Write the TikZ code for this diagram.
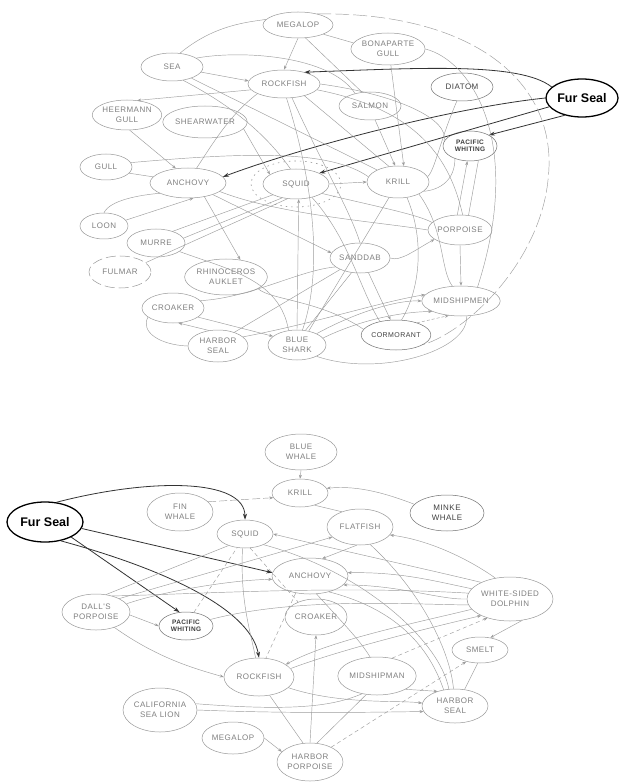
\documentclass[tikz,border=0pt]{standalone}
\usepackage{fontspec}
\usetikzlibrary{shapes.geometric,arrows.meta}
\newfontfamily\labf[LetterSpace=6]{Liberation Sans}
\newfontfamily\furf{Liberation Sans}
\begin{document}
\begin{tikzpicture}[x=1pt,y=-1pt]
\tikzset{
 sp/.style={ellipse, draw=black!40, line width=0.5pt, inner sep=0pt, align=center, text=black!50, font=\labf\fontsize{8}{10}\selectfont},
 dk/.style={text=black!75, draw=black!55},
 smallf/.style={font=\labf\bfseries\fontsize{6.5}{7.5}\selectfont},
 fur/.style={ellipse, draw=black, line width=1.3pt, inner sep=0pt, font=\furf\bfseries\fontsize{12.5}{15}\selectfont, minimum width=72, minimum height=38},
 ln/.style={draw=black!38, line width=0.45pt},
 la/.style={ln, -{Stealth[length=4pt,width=3pt]}},
 dl/.style={ln, dash pattern=on 5pt off 3pt},
 fs/.style={draw=black!80, line width=0.8pt, -{Stealth[length=6pt,width=4pt]}},
}
\fill[white] (0,0) rectangle (620,783);
\useasboundingbox (0,0) rectangle (620,783);

% ---------------- TOP WEB ----------------
\node[sp, minimum width=70, minimum height=26] (megT) at (298,25) {MEGALOP};
\node[sp, minimum width=68, minimum height=32] (bonT) at (388,49) {BONAPARTE\\GULL};
\node[sp, minimum width=62, minimum height=28] (seaT) at (172,67) {SEA};
\node[sp, minimum width=72, minimum height=28] (rockT) at (284,84) {ROCKFISH};
\node[sp, minimum width=62, minimum height=30] (heerT) at (127,115) {HEERMANN\\GULL};
\node[sp, minimum width=78, minimum height=32] (shearT) at (205,122) {SHEARWATER};
\node[sp, minimum width=62, minimum height=28] (salT) at (370,106) {SALMON};
\node[sp, dk, minimum width=62, minimum height=28] (diaT) at (462,87) {DIATOM};
\node[fur] (furT) at (582,98) {Fur Seal};
\node[sp, dk, smallf, minimum width=54, minimum height=30] (pwT) at (470,146) {PACIFIC\\WHITING};
\node[sp, minimum width=52, minimum height=26] (gullT) at (106,167) {GULL};
\node[sp, minimum width=76, minimum height=30] (anchT) at (188,183) {ANCHOVY};
\node[sp, minimum width=66, minimum height=30] (squidT) at (296,184) {SQUID};
\node[ellipse, draw=black!40, line width=0.6pt, dash pattern=on 1.5pt off 4pt, minimum width=90, minimum height=46, inner sep=0pt] (ringT) at (296,184) {};
\node[sp, minimum width=62, minimum height=32] (krillT) at (398,182) {KRILL};
\node[sp, minimum width=64, minimum height=30] (porpT) at (460,230) {PORPOISE};
\node[sp, minimum width=48, minimum height=26] (loonT) at (104,226) {LOON};
\node[sp, minimum width=58, minimum height=28] (murreT) at (156,243) {MURRE};
\node[sp, dash pattern=on 10pt off 4pt, minimum width=62, minimum height=32] (fulT) at (120,272) {FULMAR};
\node[sp, minimum width=72, minimum height=36] (rhinoT) at (226,277) {RHINOCEROS\\AUKLET};
\node[sp, minimum width=60, minimum height=30] (sandT) at (360,258) {SANDDAB};
\node[sp, minimum width=62, minimum height=30] (croakT) at (173,308) {CROAKER};
\node[sp, minimum width=64, minimum height=30] (midT) at (461,301) {MIDSHIPMEN};
\node[sp, minimum width=60, minimum height=32] (hsealT) at (218,346) {HARBOR\\SEAL};
\node[sp, minimum width=58, minimum height=30] (bsharkT) at (297,345) {BLUE\\SHARK};
\node[sp, dk, font=\labf\fontsize{7}{8}\selectfont, minimum width=62, minimum height=30] (cormT) at (396,335) {CORMORANT};

% Fur seal (top) links
\draw[fs] (furT.160) .. controls (520,62) and (420,68) .. (rockT.30);
\draw[fs] (furT.180) .. controls (450,108) and (300,148) .. (anchT.10);
\draw[fs] (furT.195) -- (squidT.25);
\draw[fs] (furT.225) -- (pwT.30);

% outer arcs
\draw[ln, dash pattern=on 14pt off 4pt] (megT.30) .. controls (470,12) and (560,80) .. (548,180) .. controls (540,260) and (470,330) .. (cormT.-20);
\draw[ln] (bsharkT.-30) .. controls (380,378) and (470,350) .. (midT.-70);
\draw[ln] (bonT.0) .. controls (470,60) and (525,140) .. (midT.40);
\draw[ln] (megT.170) .. controls (250,22) and (215,24) .. (seaT.60);

% gray links (top)
\draw[la] (megT.-90) -- (rockT.90);
\draw[ln] (megT.-60) -- (salT.120);
\draw[ln] (megT.-20) -- (bonT.170);
\draw[la] (seaT.-10) -- (rockT.175);
\draw[ln] (seaT.20) .. controls (240,50) and (330,55) .. (salT.140);
\draw[la] (rockT.190) -- (heerT.55);
\draw[ln] (seaT.-30) -- (krillT.150);
\draw[ln] (seaT.-50) .. controls (240,110) and (270,140) .. (squidT.110);
\draw[la] (shearT.-10) -- (squidT.160);
\draw[la] (heerT.-80) -- (anchT.130);
\draw[ln] (gullT.10) .. controls (250,152) and (330,150) .. (krillT.170);
\draw[ln] (gullT.-15) -- (anchT.170);
\draw[ln] (anchT.200) .. controls (140,195) and (110,200) .. (loonT.90);
\draw[la] (loonT.15) -- (anchT.-70);
\draw[ln] (murreT.35) -- (squidT.205);
\draw[ln] (murreT.10) -- (squidT.225);
\draw[ln] (fulT.20) -- (squidT.240);
\draw[la] (anchT.-40) -- (rhinoT.50);
\draw[ln] (anchT.-15) .. controls (280,215) and (380,222) .. (porpT.180);
\draw[la] (anchT.-25) -- (sandT.170);
\draw[la] (bsharkT.90) -- (squidT.-80);
\draw[ln] (squidT.-20) .. controls (370,205) and (420,215) .. (porpT.165);
\draw[la] (squidT.0) -- (krillT.180);
\draw[ln] (rockT.-30) -- (krillT.120);
\draw[ln] (rockT.-60) .. controls (320,160) and (350,210) .. (sandT.90);
\draw[ln] (rockT.-80) .. controls (300,140) and (330,250) .. (bsharkT.70);
\draw[ln] (rockT.200) .. controls (230,115) and (215,140) .. (anchT.60);
\draw[ln] (rockT.0) .. controls (400,95) and (450,120) .. (pwT.170);
\draw[ln] (rockT.-10) .. controls (420,110) and (450,160) .. (porpT.80);
\draw[la] (salT.-70) -- (krillT.100);
\draw[la] (bonT.-80) -- (krillT.70);
\draw[ln] (diaT.-110) .. controls (440,140) and (435,170) .. (krillT.10);
\draw[ln] (pwT.-140) .. controls (455,180) and (440,190) .. (krillT.-20);
\draw[la] (porpT.100) -- (pwT.-100);
\draw[ln] (pwT.-60) -- (porpT.60);
\draw[la] (porpT.-90) -- (midT.90);
\draw[la] (sandT.0) .. controls (400,262) and (415,250) .. (porpT.200);
\draw[la] (sandT.-60) -- (cormT.110);
\draw[ln] (sandT.-120) -- (bsharkT.60);
\draw[la] (bsharkT.30) .. controls (360,310) and (400,300) .. (midT.180);
\draw[la] (bsharkT.15) .. controls (360,320) and (400,312) .. (midT.200);
\draw[la, dash pattern=on 3pt off 2pt] (cormT.30) -- (midT.-130);
\draw[la] (croakT.-20) -- (bsharkT.160);
\draw[ln] (croakT.15) .. controls (250,298) and (300,270) .. (sandT.200);
\draw[la] (hsealT.120) -- (croakT.-70);
\draw[la] (hsealT.20) .. controls (320,322) and (380,302) .. (midT.170);
\draw[ln] (hsealT.40) -- (sandT.-150);
\draw[ln] (croakT.200) .. controls (140,332) and (160,345) .. (hsealT.180);
\draw[ln] (krillT.-30) .. controls (445,230) and (440,270) .. (midT.120);
\draw[ln] (krillT.-60) .. controls (425,240) and (420,290) .. (cormT.70);
\draw[ln] (krillT.-120) -- (bsharkT.50);
\draw[ln] (squidT.-40) .. controls (350,240) and (360,290) .. (cormT.140);
\draw[ln] (rhinoT.-20) .. controls (270,300) and (320,300) .. (cormT.170);
\draw[ln] (murreT.-20) .. controls (230,270) and (280,280) .. (bsharkT.120);

% ---------------- BOTTOM WEB ----------------
\node[sp, minimum width=72, minimum height=36] (bwB) at (301,452) {BLUE\\WHALE};
\node[sp, minimum width=56, minimum height=28] (krillB) at (300,493) {KRILL};
\node[sp, dk, minimum width=74, minimum height=36] (minkeB) at (447,513) {MINKE\\WHALE};
\node[sp, minimum width=66, minimum height=38] (finB) at (180,512) {FIN\\WHALE};
\node[sp, minimum width=66, minimum height=36] (flatB) at (360,527) {FLATFISH};
\node[sp, minimum width=56, minimum height=28] (squidB) at (245,534) {SQUID};
\node[fur, minimum width=76, minimum height=40] (furB) at (45,522) {Fur Seal};
\node[sp, minimum width=76, minimum height=36] (anchB) at (310,576) {ANCHOVY};
\node[sp, minimum width=86, minimum height=44] (wsdB) at (510,599) {WHITE-SIDED\\DOLPHIN};
\node[sp, minimum width=68, minimum height=36] (dallB) at (96,612) {DALL'S\\PORPOISE};
\node[sp, dk, smallf, minimum width=54, minimum height=28] (pwB) at (186,626) {PACIFIC\\WHITING};
\node[sp, minimum width=62, minimum height=36] (croakB) at (316,617) {CROAKER};
\node[sp, minimum width=56, minimum height=26] (smeltB) at (480,650) {SMELT};
\node[sp, minimum width=70, minimum height=38] (rockB) at (259,677) {ROCKFISH};
\node[sp, minimum width=78, minimum height=38] (midB) at (377,676) {MIDSHIPMAN};
\node[sp, minimum width=66, minimum height=34] (hsealB) at (455,706) {HARBOR\\SEAL};
\node[sp, minimum width=74, minimum height=44] (caslB) at (160,710) {CALIFORNIA\\SEA LION};
\node[sp, minimum width=62, minimum height=32] (megB) at (233,738) {MEGALOP};
\node[sp, minimum width=66, minimum height=38] (hporpB) at (310,762) {HARBOR\\PORPOISE};

% Fur seal (bottom) links
\draw[fs] (furB.60) .. controls (150,478) and (245,478) .. (squidB.90);
\draw[fs] (furB.-10) -- (anchB.175);
\draw[fs] (furB.-30) -- (pwB.115);
\draw[fs] (furB.-50) .. controls (150,565) and (250,605) .. (rockB.90);

% gray links (bottom)
\draw[la] (bwB.-90) -- (krillB.90);
\draw[la, dash pattern=on 8pt off 3pt] (finB.20) -- (krillB.190);
\draw[la] (minkeB.165) .. controls (390,495) and (360,485) .. (krillB.10);
\draw[ln] (flatB.140) -- (krillB.-40);
\draw[la] (wsdB.125) .. controls (470,560) and (430,540) .. (flatB.-15);
\draw[la] (wsdB.150) .. controls (430,570) and (330,548) .. (squidB.0);
\draw[la] (wsdB.165) .. controls (430,580) and (400,572) .. (anchB.5);
\draw[la] (wsdB.180) .. controls (440,600) and (400,585) .. (anchB.-15);
\draw[la] (wsdB.195) .. controls (420,622) and (330,640) .. (rockB.25);
\draw[la] (wsdB.-60) -- (smeltB.50);
\draw[ln] (dallB.45) .. controls (180,595) and (330,585) .. (wsdB.172);
\draw[ln] (dallB.60) -- (squidB.215);
\draw[la] (dallB.30) -- (flatB.200);
\draw[la] (dallB.15) .. controls (160,592) and (230,580) .. (anchB.185);
\draw[la] (dallB.-5) -- (pwB.180);
\draw[la] (dallB.-40) .. controls (160,660) and (200,670) .. (rockB.180);
\draw[ln] (pwB.15) .. controls (300,596) and (420,605) .. (wsdB.188);
\draw[la] (rockB.15) .. controls (340,650) and (420,630) .. (wsdB.210);
\draw[la] (rockB.-20) .. controls (340,705) and (400,700) .. (hsealB.175);
\draw[la] (caslB.0) .. controls (300,714) and (380,712) .. (hsealB.190);
\draw[ln] (caslB.10) .. controls (300,712) and (335,705) .. (midB.-130);
\draw[la] (hporpB.90) -- (croakB.-90);
\draw[la, dash pattern=on 4pt off 3pt] (hporpB.35) -- (smeltB.-140);
\draw[la] (megB.0) -- (hporpB.160);
\draw[la] (midB.-25) -- (hsealB.140);
\draw[ln] (hporpB.70) -- (midB.-120);
\draw[ln] (hporpB.110) -- (rockB.-60);
\draw[la, dash pattern=on 4pt off 3pt] (midB.50) -- (wsdB.-140);
\draw[ln] (squidB.-30) .. controls (360,570) and (440,640) .. (hsealB.110);
\draw[ln] (flatB.-60) .. controls (420,590) and (450,650) .. (hsealB.95);
\draw[ln] (anchB.-40) .. controls (400,610) and (430,650) .. (hsealB.125);
\draw[la] (flatB.-100) -- (anchB.55);
\draw[ln, dash pattern=on 4pt off 3pt] (squidB.-70) -- (croakB.140);
\draw[ln, dash pattern=on 4pt off 3pt] (pwB.60) -- (squidB.-120);
\draw[ln, dash pattern=on 4pt off 3pt] (anchB.-130) -- (rockB.70);
\draw[ln] (anchB.-70) .. controls (340,620) and (360,640) .. (midB.110);
\draw[ln] (squidB.-100) .. controls (240,600) and (250,630) .. (rockB.100);
\draw[ln] (smeltB.-100) -- (hsealB.60);
\end{tikzpicture}
\end{document}
